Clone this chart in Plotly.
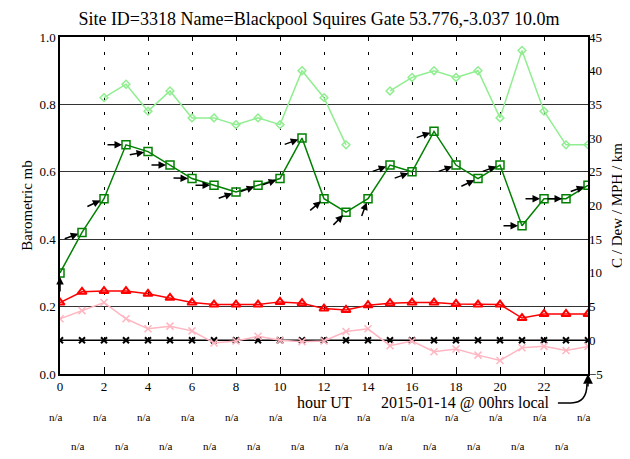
"""Hourly site plot: pressure, wind, temperature and dew point for one day."""

import math

import plotly.graph_objects as go

hours = list(range(25))

# Mean wind (MPH), right axis
wind_mph = [10, 16, 21, 29, 28, 26, 24, 23, 22, 23, 24, 30, 21, 19, 21,
            26, 25, 31, 26, 24, 26, 17, 21, 21, 23]
# Wind direction (degrees, blowing from)
wind_dir = [180, 250, 245, 270, 260, 270, 272, 270, 250, 250, 250, 250, 230,
            225, 200, 250, 250, 250, 250, 245, 250, 270, 270, 270, 250]
# Gusts (MPH), missing hours as None
gust_mph = [None, None, 36, 38, 34, 37, 33, 33, 32, 33, 32, 40, 36, 29, None,
            37, 39, 40, 39, 40, 33, 43, 34, 29, 29]
# Temperature (C)
temp_c = [5.6, 7.2, 7.3, 7.3, 6.9, 6.3, 5.6, 5.3, 5.3, 5.3, 5.7, 5.5, 4.7,
          4.5, 5.2, 5.5, 5.6, 5.6, 5.4, 5.3, 5.3, 3.3, 3.9, 3.9, 3.9]
# Dew point (C)
dew_c = [3.2, 4.4, 5.6, 3.2, 1.7, 2.1, 1.4, -0.4, -0.1, 0.6, 0.0, -0.2, -0.1,
         1.3, 1.7, -0.8, -0.1, -1.7, -1.3, -2.2, -3.0, -1.1, -0.9, -1.5, -0.9]
# Precipitation / other (zero all day)
other = [0] * 25
# Barometric pressure: no readings for this site
pressure = [None] * 25

na_hours_even = list(range(0, 25, 2))
na_hours_odd = list(range(1, 24, 2))

FONT = "Liberation Serif"
ARROW_LEN = 20

fig = go.Figure()

# Pressure trace keeps the left axis drawn (all values missing)
fig.add_trace(go.Scatter(x=hours, y=pressure, mode="lines",
                         line=dict(color="blue"), hoverinfo="skip"))
fig.add_trace(go.Scatter(
    x=hours, y=gust_mph, yaxis="y2", mode="lines+markers",
    line=dict(color="#90EE90", width=1.5),
    marker=dict(symbol="diamond-open", size=6, color="#90EE90",
                line=dict(width=1.5)),
    connectgaps=False,
))
fig.add_trace(go.Scatter(
    x=hours, y=other, yaxis="y2", mode="lines+markers",
    line=dict(color="black", width=1.5),
    marker=dict(symbol="x-thin-open", size=6, color="black",
                line=dict(width=2, color="black")),
))
fig.add_trace(go.Scatter(
    x=hours, y=dew_c, yaxis="y2", mode="lines+markers",
    line=dict(color="#FFB6C1", width=1.5),
    marker=dict(symbol="x-thin-open", size=7, color="#FFB6C1",
                line=dict(width=1.5, color="#FFB6C1")),
))
fig.add_trace(go.Scatter(
    x=hours, y=temp_c, yaxis="y2", mode="lines+markers",
    line=dict(color="red", width=1.5),
    marker=dict(symbol="triangle-up-open", size=8, color="red",
                line=dict(width=2, color="red")),
))
fig.add_trace(go.Scatter(
    x=hours, y=wind_mph, yaxis="y2", mode="lines+markers",
    line=dict(color="green", width=1.5),
    marker=dict(symbol="square-open", size=8, color="green",
                line=dict(width=1.5, color="green")),
))

annotations = []
# Wind direction arrows pointing at each wind point
for h, spd, d in zip(hours, wind_mph, wind_dir):
    theta = math.radians(90 - (d + 180))
    annotations.append(dict(
        x=h, y=spd, xref="x", yref="y2", text="", showarrow=True,
        ax=-ARROW_LEN * math.cos(theta), ay=ARROW_LEN * math.sin(theta),
        axref="pixel", ayref="pixel",
        arrowhead=2, arrowsize=1, arrowwidth=1.5, arrowcolor="black",
        standoff=4,
    ))

na_font = dict(size=11, family=FONT, color="black")
for h in na_hours_even:
    annotations.append(dict(x=h, y=-0.128, xref="x", yref="paper",
                            yanchor="middle", text="n/a", showarrow=False,
                            xshift=-4, font=na_font))
for h in na_hours_odd:
    annotations.append(dict(x=h, y=-0.214, xref="x", yref="paper",
                            yanchor="middle", text="n/a", showarrow=False,
                            xshift=-4, font=na_font))

annotations.append(dict(x=0.5, y=-0.086, xref="paper", yref="paper",
                        yanchor="middle", text="hour UT", showarrow=False,
                        font=dict(size=16, family=FONT, color="black")))
annotations.append(dict(x=0.931, y=-0.086, xref="paper", yref="paper",
                        xanchor="right", yanchor="middle",
                        text="2015-01-14 @ 00hrs local", showarrow=False,
                        font=dict(size=16, family=FONT, color="black")))
# Arrow head for the local-midnight pointer
annotations.append(dict(x=24, y=-5, xref="x", yref="y2", text="",
                        showarrow=True, ax=0, ay=14, arrowhead=2,
                        arrowsize=1.3, arrowwidth=1.5, arrowcolor="black"))

# The page body adds an 8px margin, so the figure is drawn 8px smaller
fig.update_layout(
    width=622, height=451,
    margin=dict(l=52, r=42, t=29, b=85),
    paper_bgcolor="white", plot_bgcolor="white",
    showlegend=False,
    font=dict(family=FONT, size=13, color="black"),
    title=dict(text="Site ID=3318 Name=Blackpool Squires Gate "
                    "53.776,-3.037 10.0m",
               x=0.5, xanchor="center", y=0.976, yanchor="middle",
               font=dict(size=18, family=FONT, color="black")),
    xaxis=dict(
        range=[0, 24], tickvals=list(range(0, 23, 2)),
        showgrid=True, gridcolor="black", gridwidth=1, griddash="3px,12px",
        showline=True, linecolor="black", linewidth=1.5, mirror="ticks",
        ticks="inside", ticklen=4, tickcolor="black", zeroline=False,
        automargin=False,
    ),
    yaxis=dict(
        range=[0, 1], dtick=0.2, tickformat=".1f",
        showgrid=True, gridcolor="#333", gridwidth=1,
        showline=True, linecolor="black", linewidth=1.5, mirror=True,
        zeroline=False, automargin=False,
        title=dict(text="Barometric mb", standoff=3,
                   font=dict(size=15, family=FONT)),
    ),
    yaxis2=dict(
        range=[-5, 45], dtick=5, overlaying="y", side="right",
        showgrid=False, zeroline=False, showline=False, automargin=False,
        title=dict(text="C / Dew / MPH / km", standoff=9,
                   font=dict(size=15, family=FONT)),
    ),
    annotations=annotations,
    shapes=[dict(
        type="path", xref="paper", yref="paper",
        path="M 0.943,-0.086 L 0.968,-0.086 Q 0.998,-0.086 0.998,-0.03",
        line=dict(color="black", width=1.5),
    )],
)

fig.write_html("out.html")
